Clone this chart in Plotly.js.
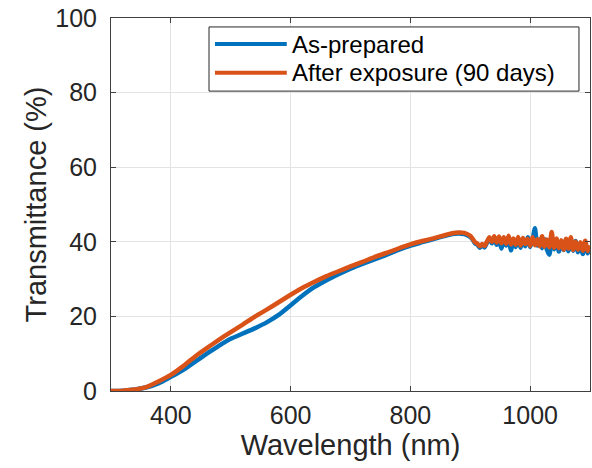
<!DOCTYPE html>
<html>
<head>
<meta charset="utf-8">
<script src="https://cdn.plot.ly/plotly-3.0.1.min.js"></script>
<style>
  html, body { margin: 0; padding: 0; background: #ffffff; }
  #chart { width: 592px; height: 468px; }
</style>
</head>
<body>
<div id="chart"></div>
<script>
// Wavelength grid (nm)
const wavelength = [300, 320, 340, 360, 380, 400, 420, 440, 460, 480, 500, 520, 540, 560, 580,
  600, 620, 640, 660, 680, 700, 720, 740, 760, 780, 800, 820, 840, 860, 870, 880, 890, 900,
  904, 908, 912, 916, 920, 924, 928, 932, 936, 940, 944, 948, 952, 956, 960, 964, 968, 972, 976, 980,
  984, 988, 992, 996, 1000, 1004, 1008, 1012, 1016, 1020, 1024, 1028, 1032, 1036, 1040, 1044, 1048,
  1052, 1056, 1060, 1064, 1068, 1072, 1076, 1080, 1084, 1088, 1092, 1096, 1100];

// Transmittance (%) - as-prepared
const asPrepared = [0, 0.1, 0.4, 1.0, 2.1, 3.8, 5.6, 7.8, 10.0, 12.1, 14.0, 15.4, 16.8, 18.4, 20.4,
  23.0, 25.6, 27.9, 29.7, 31.3, 32.8, 34.1, 35.3, 36.5, 37.8, 39.0, 39.9, 40.8, 41.7, 42.1, 42.2, 42.1, 41.3,
  40.6, 39.6, 39.2, 38.4, 39.0, 38.5, 39.8, 40.8, 39.6, 40.9, 39.2, 40.6, 38.2, 40.5, 39.0, 40.8, 37.7, 40.5, 38.6, 40.9,
  38.4, 40.3, 38.8, 41.2, 38.6, 40.5, 43.6, 39.0, 40.6, 38.3, 40.7, 37.9, 36.5, 40.2, 38.0, 40.5, 37.4,
  40.0, 37.8, 40.6, 37.5, 39.8, 37.6, 40.2, 37.2, 39.6, 36.7, 39.9, 36.9, 38.0];

// Transmittance (%) - after exposure (90 days)
const afterExposure = [0, 0.1, 0.4, 1.1, 2.6, 4.3, 6.6, 9.2, 11.5, 13.7, 15.8, 17.8, 19.9, 21.8, 23.8,
  25.8, 27.7, 29.3, 30.8, 32.1, 33.4, 34.6, 35.9, 37.0, 38.2, 39.3, 40.2, 41.0, 41.9, 42.3, 42.5, 42.4, 41.6,
  40.8, 39.9, 39.5, 38.8, 39.4, 38.9, 40.1, 41.2, 40.0, 41.5, 39.8, 41.4, 39.6, 41.2, 39.5, 41.6, 39.3, 40.9, 39.2, 41.3,
  39.0, 41.0, 39.4, 40.8, 38.9, 41.2, 39.1, 40.7, 38.8, 41.5, 38.7, 40.6, 38.5, 42.6, 38.4, 40.9, 38.3,
  40.4, 37.9, 40.8, 38.2, 41.2, 37.8, 40.1, 37.9, 39.9, 37.6, 40.3, 37.5, 39.0];

const seriesNames = ['As-prepared', 'After exposure (90 days)'];
const seriesColors = ['#0072BD', '#D95319'];
const xTicks = [400, 600, 800, 1000];
const yTicks = [0, 20, 40, 60, 80, 100];

const FONT = 'Liberation Sans, Arial, Helvetica, sans-serif';

const traces = [
  { x: wavelength, y: asPrepared, name: seriesNames[0], type: 'scatter', mode: 'lines',
    line: { color: seriesColors[0], width: 4.5, shape: 'spline', smoothing: 0.6 } },
  { x: wavelength, y: afterExposure, name: seriesNames[1], type: 'scatter', mode: 'lines',
    line: { color: seriesColors[1], width: 4.5, shape: 'spline', smoothing: 0.6 } }
];

const axisCommon = {
  showline: true, linecolor: '#404040', linewidth: 1, mirror: 'ticks',
  ticks: 'inside', ticklen: 5, tickcolor: '#404040',
  showgrid: true, gridcolor: '#e3e3e3', gridwidth: 1,
  zeroline: false,
  tickfont: { family: FONT, size: 25, color: '#262626' }
};

// Legend box drawn in paper coordinates (MATLAB-style long line samples)
const legX0 = 0.2046, legX1 = 0.977, legY0 = 0.804, legY1 = 0.976;
const rowY = [0.930, 0.853];
const sampleX0 = 0.217, sampleX1 = 0.367, textX = 0.374;

const shapes = [
  { type: 'rect', xref: 'paper', yref: 'paper', x0: legX0, x1: legX1, y0: legY0, y1: legY1,
    line: { color: '#262626', width: 1 }, fillcolor: '#ffffff', layer: 'above' }
];
const annotations = [];
seriesNames.forEach((name, i) => {
  shapes.push({ type: 'line', xref: 'paper', yref: 'paper', x0: sampleX0, x1: sampleX1,
    y0: rowY[i], y1: rowY[i], line: { color: seriesColors[i], width: 4 }, layer: 'above' });
  annotations.push({ xref: 'paper', yref: 'paper', x: textX, y: rowY[i], xanchor: 'left', yanchor: 'middle',
    text: name, showarrow: false, font: { family: FONT, size: 24, color: '#000000' } });
});

const layout = {
  width: 592, height: 468,
  margin: { l: 111, r: 2, t: 18, b: 77 },
  paper_bgcolor: '#ffffff', plot_bgcolor: '#ffffff',
  showlegend: false,
  xaxis: Object.assign({}, axisCommon, {
    range: [300, 1100], tickvals: xTicks, ticktext: xTicks.map(String),
    ticklabelstandoff: 2,
    title: { text: 'Wavelength (nm)', font: { family: FONT, size: 29, color: '#262626' }, standoff: 6 }
  }),
  yaxis: Object.assign({}, axisCommon, {
    range: [0, 100], tickvals: yTicks, ticktext: yTicks.map(String),
    ticklabelstandoff: 8,
    title: { text: 'Transmittance (%)', font: { family: FONT, size: 29, color: '#262626' }, standoff: 0 }
  }),
  shapes: shapes,
  annotations: annotations
};

Plotly.newPlot('chart', traces, layout, { staticPlot: true, displayModeBar: false });
</script>
</body>
</html>
